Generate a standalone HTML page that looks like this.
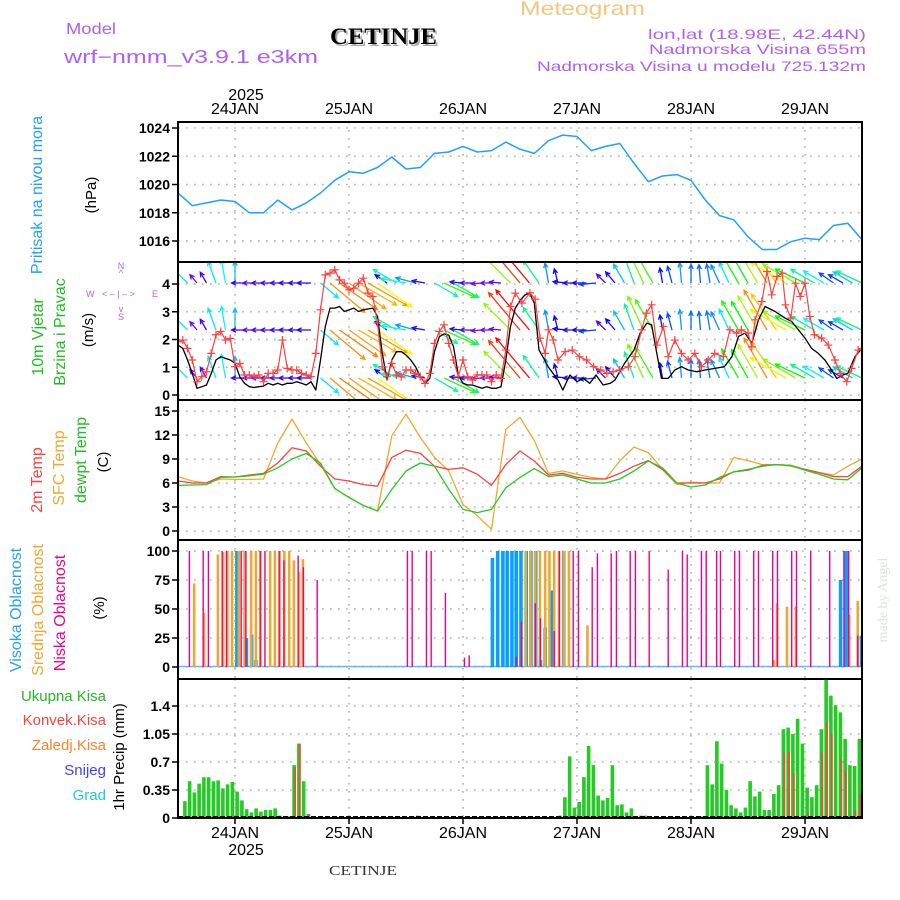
<!DOCTYPE html>
<html><head><meta charset="utf-8"><title>Meteogram CETINJE</title>
<style>
html,body{margin:0;padding:0;background:#fff;}
svg{display:block;font-family:"Liberation Sans",sans-serif;}
</style></head>
<body>
<svg id="chart" xmlns="http://www.w3.org/2000/svg" width="900" height="900" viewBox="0 0 900 900">
<defs>
<clipPath id="clipP2"><rect x="178" y="263" width="684" height="136"/></clipPath>
<clipPath id="clipAll"><rect x="178" y="122" width="684" height="696"/></clipPath>
</defs>
<rect x="0" y="0" width="900" height="900" fill="#fff"/>
<text x="520" y="15" font-size="19" fill="#f3c77e" textLength="125" lengthAdjust="spacingAndGlyphs">Meteogram</text>
<text x="66" y="34" font-size="16" fill="#b060f0" textLength="50" lengthAdjust="spacingAndGlyphs">Model</text>
<text x="64" y="63" font-size="18" fill="#b060f0" textLength="254" lengthAdjust="spacingAndGlyphs">wrf−nmm_v3.9.1  e3km</text>
<text x="332" y="46" font-size="23" font-weight="bold" fill="#aaa" font-family="Liberation Serif, serif" textLength="107" lengthAdjust="spacingAndGlyphs">CETINJE</text>
<text x="330" y="44" font-size="23" font-weight="bold" fill="#000" font-family="Liberation Serif, serif" textLength="107" lengthAdjust="spacingAndGlyphs">CETINJE</text>
<text x="866" y="39" font-size="14" fill="#b060f0" text-anchor="end" textLength="218" lengthAdjust="spacingAndGlyphs">lon,lat (18.98E, 42.44N)</text>
<text x="866" y="54" font-size="14" fill="#b060f0" text-anchor="end" textLength="217" lengthAdjust="spacingAndGlyphs">Nadmorska Visina 655m</text>
<text x="866" y="71" font-size="14" fill="#b060f0" text-anchor="end" textLength="329" lengthAdjust="spacingAndGlyphs">Nadmorska Visina u modelu 725.132m</text>
<text x="246" y="100" font-size="16" text-anchor="middle">2025</text>

<text transform="translate(42,195) rotate(-90)" font-size="16" fill="#1fa0ff" text-anchor="middle">Pritisak na nivou mora</text>
<text transform="translate(96,195) rotate(-90)" font-size="15" fill="#000" text-anchor="middle">(hPa)</text>
<text transform="translate(43,337) rotate(-90)" font-size="16" fill="#22bb22" text-anchor="middle">10m Vjetar</text>
<text transform="translate(65,332) rotate(-90)" font-size="16" fill="#22bb22" text-anchor="middle">Brzina i Pravac</text>
<text transform="translate(93,330) rotate(-90)" font-size="15" fill="#000" text-anchor="middle">(m/s)</text>
<g font-size="9" fill="#b060f0">
<text x="121" y="269" text-anchor="middle">N</text>
<text x="121" y="276" text-anchor="middle">^</text>
<text x="86" y="297">W</text>
<text x="102" y="297">&lt; – | – &gt;</text>
<text x="152" y="297">E</text>
<text x="121" y="312" text-anchor="middle">v</text>
<text x="121" y="320" text-anchor="middle">S</text>
</g>
<text transform="translate(42,480) rotate(-90)" font-size="16" fill="#ff4040" text-anchor="middle">2m Temp</text>
<text transform="translate(64,468) rotate(-90)" font-size="16" fill="#f0a830" text-anchor="middle">SFC Temp</text>
<text transform="translate(86,460) rotate(-90)" font-size="16" fill="#22bb22" text-anchor="middle">dewpt Temp</text>
<text transform="translate(108,462) rotate(-90)" font-size="15" fill="#000" text-anchor="middle">(C)</text>
<text transform="translate(21,610) rotate(-90)" font-size="16" fill="#1fa0ff" text-anchor="middle">Visoka Oblacnost</text>
<text transform="translate(43,610) rotate(-90)" font-size="16" fill="#f0a830" text-anchor="middle">Srednja Oblacnost</text>
<text transform="translate(65,613) rotate(-90)" font-size="16" fill="#ee0088" text-anchor="middle">Niska Oblacnost</text>
<text transform="translate(104,608) rotate(-90)" font-size="15" fill="#000" text-anchor="middle">(%)</text>
<g font-size="15" text-anchor="end">
<text x="106" y="701" fill="#22bb22">Ukupna Kisa</text>
<text x="106" y="725" fill="#ff4040">Konvek.Kisa</text>
<text x="106" y="750" fill="#ff8030">Zaledj.Kisa</text>
<text x="106" y="775" fill="#4040ff">Snijeg</text>
<text x="106" y="800" fill="#20c8d8">Grad</text>
</g>
<text transform="translate(124,757) rotate(-90)" font-size="15" fill="#000" text-anchor="middle">1hr Precip (mm)</text>
<text x="246" y="855" font-size="16" text-anchor="middle">2025</text>
<text x="363" y="875" font-size="14" fill="#333" text-anchor="middle" font-family="Liberation Serif, serif" textLength="68" lengthAdjust="spacingAndGlyphs">CETINJE</text>
<text transform="translate(887,600) rotate(-90)" font-size="14" fill="#d8e6d8" text-anchor="middle" font-family="Liberation Serif, serif">made by Angel</text>

<g id="grid"></g>
<g id="marks"></g>
<g id="frames"></g>
</svg>
<script>
// ---------- data ----------
const dayLabels = ["24JAN","25JAN","26JAN","27JAN","28JAN","29JAN"];
const pressureTicks = [1016,1018,1020,1022,1024];
const windTicks = [0,1,2,3,4];
const tempTicks = [0,3,6,9,12,15];
const cloudTicks = [0,25,50,75,100];
const precipTicks = [0,0.35,0.7,1.05,1.4];
const precipTickLabels = ["0","0.35","0.7","1.05","1.4"];

const seriesHours3 = [0,3,6,9,12,15,18,21,24,27,30,33,36,39,42,45,48,51,54,57,60,63,66,69,72,75,78,81,84,87,90,93,96,99,102,105,108,111,114,117,120,123,126,129,132,135,138,141,144];
const pressure = [1019.4,1018.5,1018.7,1018.9,1018.8,1018.0,1018.0,1018.9,1018.2,1018.7,1019.4,1020.3,1020.9,1020.8,1021.2,1021.95,1021.1,1021.2,1022.2,1022.3,1022.7,1022.3,1022.4,1023.0,1022.5,1022.2,1023.1,1023.5,1023.4,1022.4,1022.7,1022.9,1021.5,1020.2,1020.6,1020.7,1020.3,1018.9,1017.8,1017.5,1016.3,1015.4,1015.4,1015.95,1016.2,1016.1,1017.1,1017.25,1016.1];
const temp2m = [6.25,6.0,6.0,6.8,6.75,7.0,7.2,8.5,10.4,10.0,8.1,6.5,6.25,5.8,5.6,9.2,10.1,9.7,8.1,7.7,7.9,7.1,5.7,8.3,10.0,8.75,7.0,7.2,6.7,6.5,6.5,7.2,8.1,8.8,7.7,6.0,6.0,6.0,6.5,7.4,7.6,8.2,8.3,8.2,7.7,7.3,6.8,6.8,8.1];
const tempSfc = [6.8,6.25,6.0,6.5,6.45,6.45,6.5,11.0,14.0,11.0,8.3,5.3,4.2,3.2,2.5,11.9,14.6,11.7,9.2,7.5,3.3,1.9,0.2,12.7,14.2,11.3,7.2,7.5,7.1,6.7,6.5,8.75,10.5,9.8,7.7,5.8,6.1,6.0,6.0,9.2,8.8,8.3,8.3,8.1,7.7,7.3,7.0,8.1,9.0];
const dewpoint = [5.7,5.75,5.8,6.7,6.75,6.9,7.1,7.9,9.0,9.7,8.5,5.3,4.2,3.2,2.5,5.2,7.5,8.5,8.1,5.2,2.7,2.3,2.7,5.4,6.7,7.8,6.8,7.0,6.5,6.0,6.0,6.5,7.5,8.75,7.9,6.0,5.5,5.75,6.7,7.4,7.7,8.1,8.3,8.2,7.6,7.1,6.5,6.4,7.9];

const windHours = [0,1,2,3,4,5,6,7,8,9,10,11,12,13,14,15,16,17,18,19,20,21,22,23,24,25,26,27,28,29,30,31,32,33,34,35,36,37,38,39,40,41,42,43,44,45,46,47,48,49,50,51,52,53,54,55,56,57,58,59,60,61,62,63,64,65,66,67,68,69,70,71,72,73,74,75,76,77,78,80,81,82.5,84,85.3,86.7,88,89.5,91,92,94,96,97.3,98.7,99.7,100.8,101.8,103.2,104.6,106,107.4,109.2,111,113,115,116.6,118,119.4,120.8,122.2,123.6,125.7,127.8,129.2,130.6,132,133.4,134.8,136.2,137.6,138.7,140,141,142.5,144];
const windSpeed = [1.8,1.68,1.26,0.78,0.24,0.3,0.36,0.78,1.26,1.38,1.32,1.26,1.14,0.66,0.42,0.3,0.27,0.3,0.32,0.42,0.36,0.42,0.36,0.42,0.42,0.48,0.42,0.36,0.48,0.18,1.26,2.47,3.13,3.13,3.19,3.01,3.07,3.13,3.01,3.07,3.1,3.13,2.83,1.5,0.54,1.26,1.56,1.56,1.44,1.26,1.02,0.66,0.42,0.6,1.56,2.1,2.2,2.15,1.74,0.72,0.42,0.36,0.36,0.3,0.24,0.3,0.24,0.24,0.3,1.26,2.47,3.13,3.4,3.6,3.68,3.31,1.62,1.32,1.0,0.54,0.18,0.72,0.48,0.6,0.42,0.72,0.36,0.42,0.54,1.14,1.62,2.23,2.59,2.53,1.5,0.6,0.6,0.9,1.02,0.9,0.84,0.9,0.96,1.02,1.38,2.11,2.23,1.86,2.71,3.19,3.01,2.77,2.65,2.35,2.05,1.68,1.5,1.26,0.9,0.6,0.72,0.78,1.38,1.68];
const gustHours = [0,1,2,3,4,5,6,7,8,9,10,11,12,13,14,15,16,17,18,19,20,21,22,23,24,25,26,27,28,29,30,31,32,33,34,35,36,37,38,39,40,41,42,43,44,45,46,47,48,49,50,51,52,53,54,55,56,57,58,59,60,61,62,63,64,65,66,67,68,69,70,71,72.4,74.1,75.2,76.2,77.3,78,79,80,81.5,83,84.5,86,87.5,89,90.3,91.6,93,94.8,96.2,97.6,98.6,99.7,100.8,102.2,103.2,104.6,106,107.4,108.8,110.2,111.6,113,114.8,116.2,117.6,118.6,120,120.8,121.5,122.9,124,125,126.1,127.2,127.9,129,130,131,132,133,134,135.5,136.9,138.3,139.4,140.8,141.8,143.2,144];
const gustSpeed = [1.92,1.98,1.68,1.26,0.48,0.66,0.84,1.5,2.17,2.29,1.98,2.04,1.02,1.14,0.72,0.72,0.66,0.72,0.48,0.78,0.78,0.9,1.98,0.96,0.9,0.9,0.78,0.72,0.66,1.5,3.07,4.33,4.39,4.51,4.15,4.03,3.79,3.85,4.03,4.21,3.67,3.55,2.6,1.02,0.66,1.14,0.72,0.66,0.9,0.9,0.78,0.66,0.42,0.78,1.86,2.29,2.53,1.86,1.26,0.66,1.26,0.66,0.54,0.72,0.72,0.72,0.48,0.72,0.6,1.62,3.19,3.67,3.31,3.68,3.45,2.05,1.5,2.35,1.98,1.26,1.56,1.62,1.38,1.26,1.02,0.9,0.78,0.84,0.9,1.02,1.38,2.35,2.95,3.25,1.8,2.47,1.38,1.98,1.5,1.26,1.5,1.02,1.26,1.5,1.38,2.35,2.23,2.35,2.23,1.74,2.71,3.37,4.45,3.61,4.27,4.39,3.25,2.77,4.03,3.55,4.03,2.83,2.17,2.05,1.8,1.26,0.78,0.48,0.96,1.62,1.68];

const arrowHours = [0,2,4,6,8,10,12,14,16,18,20,22,24,26,28,30,32,34,36,38,40,42,44,46,48,50,52,54,56,58,60,62,64,66,68,70,72,74,76,78,80,82,84,86,88,90,92,94,96,98,100,102,104,106,108,110,112,114,116,118,120,122,124,126,128,130,132,134,136,138,140,142,144];
const arrowDir = [315,315,320,330,340,350,0,270,270,270,270,270,270,270,270,130,130,125,125,120,120,125,305,300,280,285,280,120,115,120,275,270,265,270,275,315,320,320,325,350,345,275,270,270,265,315,320,330,340,335,330,350,345,355,0,355,350,335,335,330,330,330,330,325,300,300,295,300,300,305,300,300,295];

const highCloudHours = [12.4,14.4,15.5,16.4,66.2,67.3,68.4,69.3,70.3,71.2,72.2,73.3,74.3,75.3,76.3,77.3,78.8,81.2,139.5,140.7,143.9];
const highCloudPct = [100,25,28,6,94,100,100,100,100,100,100,100,100,100,6,34,66,100,75,100,27];
const midCloudHours = [3.4,5.5,8.4,9.5,10.4,11.4,12.8,14,15.4,16.4,17.4,19.4,20.4,21.4,22.4,23.4,24.4,25.5,26.3,27.4,73.2,74.2,75.2,76.2,77.3,78.2,79.2,80.2,81.2,82.3,86.2,125.4,126.1,128.2,130.1,141.3,143.1];
const midCloudPct = [72,47,97,99,100,100,100,100,100,100,100,100,100,100,100,100,92,82,93,1,100,100,100,100,100,100,100,100,100,100,36,6,55,52,52,45,57];
const lowCloudHours = [2.4,5.3,6.4,9.3,10.2,13.3,14.3,17.3,18.3,21.3,22.3,25.3,26.4,29.3,48.3,49.3,52.3,53.3,56.3,60.3,61.3,71.2,72.3,75.2,76.3,79.2,80.3,83.2,84.3,87.2,88.3,91.2,92.3,95.2,96.3,99.2,103.2,106.2,107.2,110.2,111.2,113.4,114.2,117.2,118.2,121.2,122.2,125.2,126.2,129.2,130.2,133.2,137.2,140.2,141.2,143.1];
const lowCloudPct = [100,100,100,100,100,100,100,100,100,100,92,96,86,75,100,100,100,100,64,8,10,9,39,55,42,31,100,100,100,86,98,98,100,100,100,100,84,100,97,100,100,100,100,100,100,100,100,100,100,100,100,100,100,100,100,27];

const precipHours = [1,2,3,4,5,6,7,8,9,10,11,12,13,14,15,16,17,18,19,20,21,23,24,25,26,27,49,50,80,81,82,83,84,85,86,87,88,89,90,91,92,93,94,95,96,97,98,102,110,111,112,113,114,115,116,117,118,119,120,121,122,123,124,125,126,127,128,129,130,131,132,133,134,135,136,137,138,139,140,141,142,143,144];
const precipTotal = [0.21,0.46,0.32,0.43,0.51,0.51,0.46,0.47,0.37,0.42,0.45,0.33,0.22,0.11,0.07,0.12,0.08,0.1,0.1,0.12,0.03,0.02,0.66,0.93,0.46,0.05,0.02,0.03,0.03,0.26,0.77,0.13,0.2,0.51,0.9,0.66,0.28,0.22,0.25,0.66,0.16,0.17,0.07,0.12,0.02,0.03,0.03,0.01,0.02,0.66,0.42,0.96,0.68,0.35,0.16,0.12,0.07,0.13,0.46,0.27,0.33,0.1,0.1,0.3,0.41,1.11,1.13,1.05,1.24,0.93,0.38,0.26,0.41,1.11,1.73,1.53,1.41,1.32,0.99,0.66,0.65,0.99,0.48];
const convHours = [23,24,25,27,86,127,128,129,132,135,136,137,139,140,142,143,144];
const convPrecip = [0.02,0.63,0.93,0.05,0.03,0.82,0.82,0.56,0.06,0.82,1.2,1.06,0.74,0.6,0.1,0.3,0.48];

// ---------- axes ----------
const X0 = 178, X1 = 862, PXH = 4.75;
function X(h){ return X0 + h*PXH; }
function yP(p){ return 128 + (1024-p)*14.125; }
function yW(s){ return 395 - s*27.75; }
function yT(t){ return 531 - t*8; }
function yC(c){ return 667 - c*1.16; }
function yR(r){ return 818 - r*80; }

const NS = "http://www.w3.org/2000/svg";
function mk(tag, attrs, parent){
  const e = document.createElementNS(NS, tag);
  for (const k in attrs) e.setAttribute(k, attrs[k]);
  if (parent) parent.appendChild(e);
  return e;
}
const grid = document.getElementById('grid');
const marks = document.getElementById('marks');
const frames = document.getElementById('frames');

const panels = [
  {top:122, bot:262, ticks:pressureTicks, labels:pressureTicks.map(String), f:yP, name:'pressure'},
  {top:262, bot:400, ticks:windTicks, labels:windTicks.map(String), f:yW, name:'wind'},
  {top:400, bot:540, ticks:tempTicks, labels:tempTicks.map(String), f:yT, name:'temperature'},
  {top:540, bot:679, ticks:cloudTicks, labels:cloudTicks.map(String), f:yC, name:'cloud'},
  {top:679, bot:818, ticks:precipTicks, labels:precipTickLabels, f:yR, name:'precip'}
];

panels.forEach(function(p){
  p.ticks.forEach(function(v, i){
    const y = p.f(v);
    const gl = mk('line',{x1:X0,x2:X1,y1:y,y2:y,stroke:'#b0b0b0','stroke-width':1.6,'stroke-dasharray':'1.6,6.4'}, grid);
    
    
    const tk = mk('line',{x1:X0-6,x2:X0,y1:y,y2:y,stroke:'#000','stroke-width':1.5}, frames);
    
    
    const tl = mk('text',{x:X0-8,y:y+5,'text-anchor':'end','font-size':14,'font-weight':'bold'}, frames);
    tl.textContent = p.labels[i];
    
    
  });
  dayLabels.forEach(function(d, k){
    const x = X(12 + 24*k);
    const vl = mk('line',{x1:x,x2:x,y1:p.top,y2:p.bot,stroke:'#b0b0b0','stroke-width':1.6,'stroke-dasharray':'1.6,6.4'}, grid);
    
    
  });
  const fr = mk('rect',{x:X0,y:p.top,width:X1-X0,height:p.bot-p.top,fill:'none',stroke:'#000','stroke-width':2}, frames);
  
  
});
dayLabels.forEach(function(d, k){
  const x = X(12 + 24*k);
  const t1 = mk('text',{x:x,y:114,'text-anchor':'middle','font-size':16}, frames);
  t1.textContent = d;
  
  
  const t2 = mk('text',{x:x,y:838,'text-anchor':'middle','font-size':16}, frames);
  t2.textContent = d;
  
  
  const tt = mk('line',{x1:x,x2:x,y1:818,y2:824,stroke:'#000','stroke-width':1.5}, frames);
  
  
});

function poly(hours, vals, f, color, width, name, parent){
  const pts = hours.map(function(h,i){ return X(h).toFixed(1)+','+f(vals[i]).toFixed(1); }).join(' ');
  const pl = mk('polyline',{points:pts,fill:'none',stroke:color,'stroke-width':width,'stroke-linejoin':'round'}, parent);
  
  
  return pl;
}

const clipAll = mk('g',{'clip-path':'url(#clipAll)'}, marks);



poly(seriesHours3, pressure, yP, '#1fa0ff', 1.5, 'pressure-line', clipAll);

const windG = mk('g',{'clip-path':'url(#clipP2)'}, marks);


function speedAt(h){
  for (let i=0;i<windHours.length-1;i++){
    if (h>=windHours[i] && h<=windHours[i+1]){
      const t=(h-windHours[i])/(windHours[i+1]-windHours[i]);
      return windSpeed[i]+(windSpeed[i+1]-windSpeed[i])*t;
    }
  }
  return windSpeed[windSpeed.length-1];
}
const rowsY = [283, 330, 378];
arrowHours.forEach(function(h, i){
  const s = speedAt(h);
  const hue = Math.max(0, Math.min(275, 285 - s*80));
  const col = 'hsl(' + hue.toFixed(0) + ',95%,50%)';
  const L = 8 + 12*s;
  const a = arrowDir[i]*Math.PI/180;
  const dx = Math.sin(a)*L, dy = -Math.cos(a)*L;
  rowsY.forEach(function(ry){
    const x1 = X(h), y1 = ry, x2 = x1+dx, y2 = y1+dy;
    const back = Math.atan2(-dy, -dx);
    const hx1 = x2 + 5*Math.cos(back+0.45), hy1 = y2 + 5*Math.sin(back+0.45);
    const hx2 = x2 + 5*Math.cos(back-0.45), hy2 = y2 + 5*Math.sin(back-0.45);
    const ar = mk('path',{d:'M'+x1.toFixed(1)+','+y1.toFixed(1)+'L'+x2.toFixed(1)+','+y2.toFixed(1)+'M'+hx1.toFixed(1)+','+hy1.toFixed(1)+'L'+x2.toFixed(1)+','+y2.toFixed(1)+'L'+hx2.toFixed(1)+','+hy2.toFixed(1),stroke:col,'stroke-width':1.3,fill:'none'}, windG);
    
    
  });
});
poly(windHours, windSpeed, yW, '#000', 1.3, 'wind-speed-line', windG);
poly(gustHours, gustSpeed, yW, '#ff4040', 1.2, 'wind-gust-line', windG);
gustHours.forEach(function(h, i){
  const x = X(h), y = yW(gustSpeed[i]);
  const pm = mk('path',{d:'M'+(x-4)+','+y+'H'+(x+4)+'M'+x+','+(y-4)+'V'+(y+4),stroke:'#ff4040','stroke-width':1.2}, windG);
  
  
});

poly(seriesHours3, tempSfc, yT, '#f0a830', 1.3, 'sfc-temp-line', clipAll);
poly(seriesHours3, temp2m, yT, '#ff4040', 1.3, 'temp-2m-line', clipAll);
poly(seriesHours3, dewpoint, yT, '#22cc22', 1.3, 'dewpoint-line', clipAll);

const base = mk('line',{x1:X0,x2:X1,y1:yC(0)-0.5,y2:yC(0)-0.5,stroke:'#60b8ff','stroke-width':1.5}, clipAll);


highCloudHours.forEach(function(h, i){
  const r = mk('rect',{x:X(h)-1.8,y:yC(highCloudPct[i]),width:3.6,height:yC(0)-yC(highCloudPct[i]),fill:'#07a0ff'}, clipAll);
  
  
});
midCloudHours.forEach(function(h, i){
  const r = mk('rect',{x:X(h)-1.3,y:yC(midCloudPct[i]),width:2.6,height:yC(0)-yC(midCloudPct[i]),fill:'#e8aa30'}, clipAll);
  
  
});
lowCloudHours.forEach(function(h, i){
  const r = mk('rect',{x:X(h)-0.7,y:yC(lowCloudPct[i]),width:1.4,height:yC(0)-yC(lowCloudPct[i]),fill:'#ee0088'}, clipAll);
  
  
});

precipHours.forEach(function(h, i){
  const x = X(h+0.45);
  const r = mk('rect',{x:x-1.8,y:yR(precipTotal[i]),width:3.6,height:yR(0)-yR(precipTotal[i]),fill:'#22cc22'}, clipAll);
  
  
});
convHours.forEach(function(h, i){
  const x = X(h+0.45);
  const r = mk('rect',{x:x+0.2,y:yR(convPrecip[i]),width:1.6,height:yR(0)-yR(convPrecip[i]),fill:'#ff4040'}, clipAll);
  
  
});
const zeroLine = mk('line',{x1:X0,x2:X1,y1:817,y2:817,stroke:'#000','stroke-width':2,'stroke-dasharray':'5,2'}, frames);


</script>
</body></html>
